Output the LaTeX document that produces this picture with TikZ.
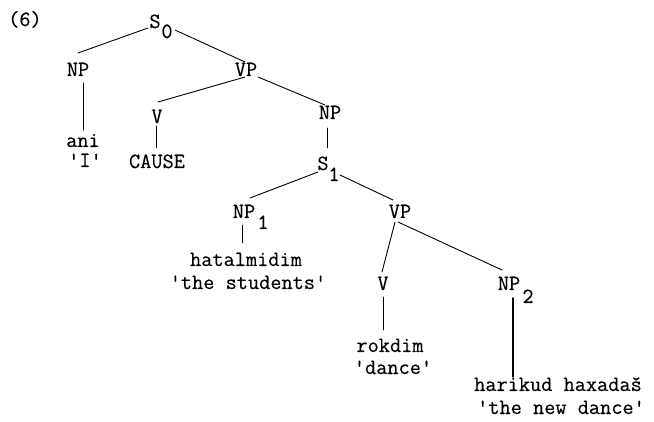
\documentclass[tikz,border=0pt]{standalone}
\usepackage{fontspec}
\setmonofont{Latin Modern Mono}[FakeBold=0.3]
\usetikzlibrary{calc}
\newcommand\tq{\textquotesingle}
\begin{document}
\begin{tikzpicture}[x=1pt,y=-1pt,
  lbl/.style={anchor=base,inner sep=0pt,font=\ttfamily\fontsize{21.7}{22}\selectfont},
  edge/.style={line width=0.9pt,line cap=round}]
\useasboundingbox[fill=white] (0,0) rectangle (654,422);

% example number
\node[lbl,anchor=base west] (ex) at (8,26) {(6)};

% matrix clause
\node[lbl] (s0) at (155,28) {S};
\node[lbl] (s0sub) at (167,38) {0};
\node[lbl] (np0) at (78,76) {NP};
\node[lbl] (vp0) at (246,76) {VP};
\node[lbl] (ani) at (83,147) {ani};
\node[lbl] (aniG) at (85,167) {\tq I\tq};
\node[lbl] (v0) at (157,123) {V};
\node[lbl] (cause) at (157,168) {CAUSE};
\node[lbl] (np1) at (330,119) {NP};

% embedded clause
\node[lbl] (s1) at (323,170) {S};
\node[lbl] (s1sub) at (334,181) {1};
\node[lbl] (npa) at (244,218) {NP};
\node[lbl] (npasub) at (263,229) {1};
\node[lbl] (vp1) at (400,218) {VP};
\node[lbl] (hat) at (246,266) {hatalmidim};
\node[lbl] (hatG) at (248,289) {\tq the students\tq};
\node[lbl] (v1) at (383,290) {V};
\node[lbl] (npb) at (509,290) {NP};
\node[lbl] (npbsub) at (528,303) {2};
\node[lbl] (rok) at (390,352) {rokdim};
\node[lbl] (rokG) at (393,374) {\tq dance\tq};
\node[lbl] (har) at (558,391) {harikud haxadaš};
\node[lbl] (harG) at (561,414) {\tq the new dance\tq};

% branches
\draw[edge] ($(s0.base)+(-7,0)$) -- ($(np0.base)+(0,-23)$);
\draw[edge] ($(s0sub.base)+(8,-8)$) -- ($(vp0.base)+(-1,-14)$);
\draw[edge] ($(np0.base)+(5,7)$) -- ($(ani.base)+(0,-17)$);
\draw[edge] ($(vp0.base)+(-1,1)$) -- ($(v0.base)+(1,-21)$);
\draw[edge] ($(vp0.base)+(12,1)$) -- ($(np1.base)+(-5,-14)$);
\draw[edge] ($(v0.base)+(-1,3)$) -- ($(cause.base)+(-1,-20)$);
\draw[edge] ($(np1.base)+(-3,9)$) -- ($(s1.base)+(4,-22)$);
\draw[edge] ($(s1.base)+(-5,2)$) -- ($(npa.base)+(6,-20)$);
\draw[edge] ($(s1sub.base)+(6,-6)$) -- ($(vp1.base)+(-7,-18)$);
\draw[edge] ($(npa.base)+(-2,7)$) -- ($(hat.base)+(-4,-23)$);
\draw[edge] ($(vp1.base)+(-5,4)$) -- ($(v1.base)+(-1,-18)$);
\draw[edge] ($(vp1.base)+(-2,4)$) -- ($(npb.base)+(-7,-20)$);
\draw[edge] ($(v1.base)+(0,7)$) -- ($(rok.base)+(-7,-22)$);
\draw[edge,line width=1.4pt] ($(npb.base)+(4,8)$) -- ($(har.base)+(-45,-14)$);
\end{tikzpicture}
\end{document}
